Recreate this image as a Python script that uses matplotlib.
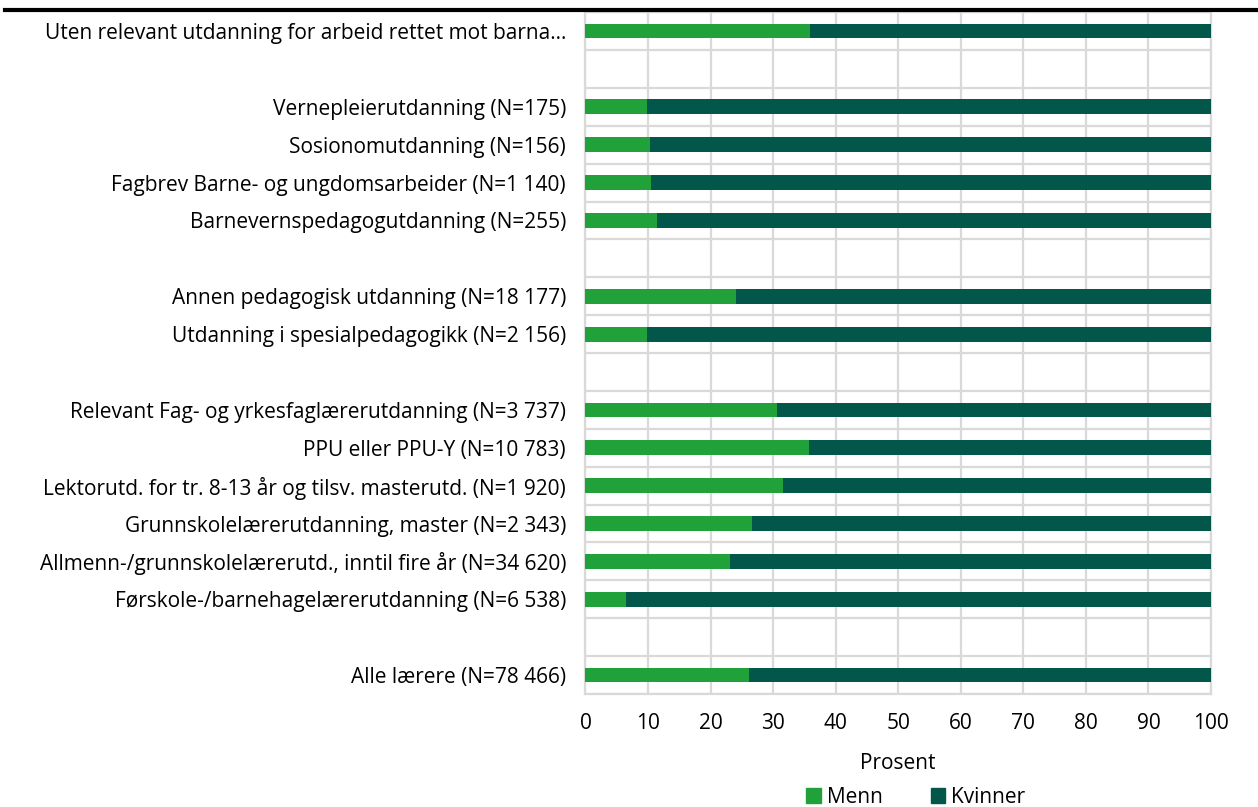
import matplotlib
matplotlib.use('Agg')
import matplotlib.pyplot as plt
from matplotlib.lines import Line2D
from matplotlib.patches import Patch

plt.rcParams['font.family'] = ['Open Sans', 'DejaVu Sans']

# Data (top to bottom, '' = empty separator row)
categories = [
    "Uten relevant utdanning for arbeid rettet mot barna...",
    "",
    "Vernepleierutdanning (N=175)",
    "Sosionomutdanning (N=156)",
    "Fagbrev Barne- og ungdomsarbeider (N=1 140)",
    "Barnevernspedagogutdanning (N=255)",
    "",
    "Annen pedagogisk utdanning (N=18 177)",
    "Utdanning i spesialpedagogikk (N=2 156)",
    "",
    "Relevant Fag- og yrkesfaglærerutdanning (N=3 737)",
    "PPU eller PPU-Y (N=10 783)",
    "Lektorutd. for tr. 8-13 år og tilsv. masterutd. (N=1 920)",
    "Grunnskolelærerutdanning, master (N=2 343)",
    "Allmenn-/grunnskolelærerutd., inntil fire år (N=34 620)",
    "Førskole-/barnehagelærerutdanning (N=6 538)",
    "",
    "Alle lærere (N=78 466)",
]
menn = [35.9, None, 9.8, 10.3, 10.5, 11.4, None, 24.0, 9.9, None,
        30.7, 35.8, 31.6, 26.6, 23.1, 6.5, None, 26.1]

menn_color = '#21A13A'
kvinner_color = '#02574A'
grid_color = '#D9D9D9'
fs = 15

fig = plt.figure(figsize=(12.58, 8.07), dpi=100)
ax = fig.add_axes([0.4654, 0.140, 0.4972, 0.845])

for i, m in enumerate(menn):
    if m is None:
        continue
    ax.barh(i, m, height=0.39, color=menn_color, zorder=3)
    ax.barh(i, 100 - m, left=m, height=0.39, color=kvinner_color, zorder=3)

n = len(categories)
ax.set_ylim(n - 0.5, -0.5)
ax.set_xlim(0, 100)
ax.set_yticks(range(n))
ax.set_yticklabels(categories, fontsize=fs)
ax.set_yticks([i + 0.5 for i in range(-1, n)], minor=True)
ax.set_xticks(range(0, 101, 10))
ax.tick_params(axis='x', labelsize=fs, length=0, pad=14)
ax.tick_params(axis='y', which='both', length=0, pad=14)
ax.grid(axis='x', which='major', color=grid_color, lw=1.6, zorder=0)
ax.grid(axis='y', which='minor', color=grid_color, lw=1.6, zorder=0)
for s in ax.spines.values():
    s.set_color(grid_color)
    s.set_linewidth(1.6)
ax.set_xlabel("Prosent", fontsize=fs, labelpad=13)

handles = [Patch(color=menn_color, label='Menn'), Patch(color=kvinner_color, label='Kvinner')]
fig.legend(handles=handles, loc='center', bbox_to_anchor=(0.728, 0.012), ncol=2,
           frameon=False, fontsize=fs, handlelength=0.7, handleheight=0.7,
           handletextpad=0.3, columnspacing=2.3)

# thick rule under the (cropped) title
fig.add_artist(Line2D([0.004, 1.0], [0.988, 0.988], color='black', lw=3))

fig.savefig('out.png', dpi=100)
